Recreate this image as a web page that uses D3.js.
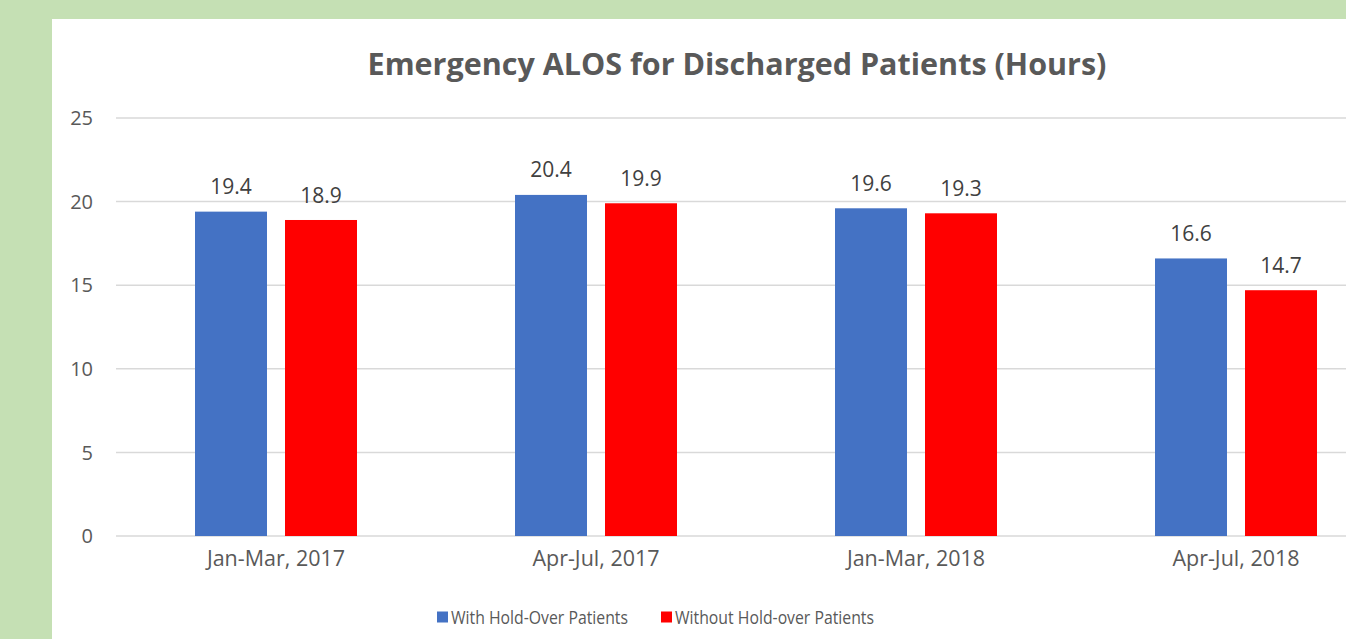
<!DOCTYPE html>
<html><head><meta charset="utf-8">
<script src="https://cdn.jsdelivr.net/npm/d3@7"></script>
<style>body{margin:0;background:#c5e0b4;overflow:hidden}</style>
</head><body>
<svg id="c" width="1346" height="639"></svg>
<script>
const categories = ["Jan-Mar, 2017", "Apr-Jul, 2017", "Jan-Mar, 2018", "Apr-Jul, 2018"];
const seriesNames = ["With Hold-Over Patients", "Without Hold-over Patients"];
const withHold = [19.4, 20.4, 19.6, 16.6];
const withoutHold = [18.9, 19.9, 19.3, 14.7];
const yTicks = [0, 5, 10, 15, 20, 25];
const colors = ["#4472c4", "#ff0000"];
const title = "Emergency ALOS for Discharged Patients (Hours)";

const svg = d3.select("#c");
const font = "'Open Sans', sans-serif";
svg.append("rect").attr("x", 52).attr("y", 19).attr("width", 1346 - 52).attr("height", 639 - 19).attr("fill", "#fff");

const x = d3.scaleBand().domain(categories).range([116, 1396]).paddingInner(0).paddingOuter(0);
const y = d3.scaleLinear().domain([0, 25]).range([536, 118]);
const sub = d3.scaleBand().domain([0, 1]).range([-81, 81]).paddingInner(0.2);

// gridlines
svg.append("g").selectAll("line").data(yTicks).join("line")
  .attr("x1", 116).attr("x2", 1346).attr("y1", d => y(d)).attr("y2", d => y(d))
  .attr("stroke", "#d9d9d9").attr("stroke-width", 1.5);

// y axis labels
svg.append("g").selectAll("text").data(yTicks).join("text")
  .attr("x", 93).attr("y", d => y(d)).attr("dy", "0.36em").attr("text-anchor", "end")
  .attr("font-family", font).attr("font-size", 20).attr("fill", "#595959").text(d => d);

const data = categories.map((c, i) => ({c, vals: [withHold[i], withoutHold[i]]}));
const g = svg.append("g").selectAll("g").data(data).join("g")
  .attr("transform", d => `translate(${x(d.c) + x.bandwidth() / 2},0)`);
g.selectAll("rect").data(d => d.vals.map((v, k) => ({v, k}))).join("rect")
  .attr("x", d => sub(d.k)).attr("width", sub.bandwidth())
  .attr("y", d => y(d.v)).attr("height", d => y(0) - y(d.v))
  .attr("fill", d => colors[d.k]);
g.selectAll("text.v").data(d => d.vals.map((v, k) => ({v, k}))).join("text")
  .attr("class", "v")
  .attr("x", d => sub(d.k) + sub.bandwidth() / 2).attr("y", d => y(d.v) - 25)
  .attr("dy", "0.36em").attr("text-anchor", "middle")
  .attr("font-family", font).attr("font-size", 21).attr("fill", "#404040")
  .text(d => d.v.toFixed(1));

// category labels
svg.append("g").selectAll("text").data(categories).join("text")
  .attr("x", d => x(d) + x.bandwidth() / 2).attr("y", 558).attr("dy", "0.36em")
  .attr("text-anchor", "middle").attr("font-family", font).attr("font-size", 21.5)
  .attr("fill", "#595959").text(d => d);

// title
svg.append("text").attr("x", 737).attr("y", 64).attr("dy", "0.36em").attr("text-anchor", "middle")
  .attr("font-family", font).attr("font-weight", "bold").attr("font-size", 30.5)
  .attr("fill", "#595959").text(title);

// legend
const legX = [437, 661];
const legTextLen = [177, 199];
const lg = svg.append("g").selectAll("g").data(seriesNames).join("g")
  .attr("transform", (d, i) => `translate(${legX[i]},617)`);
lg.append("rect").attr("x", 0).attr("y", -5.5).attr("width", 11).attr("height", 11)
  .attr("fill", (d, i) => colors[i]);
lg.append("text").attr("x", 14).attr("dy", "0.36em").attr("font-family", font)
  .attr("font-size", 19).attr("fill", "#595959")
  .attr("textLength", (d, i) => legTextLen[i]).attr("lengthAdjust", "spacingAndGlyphs")
  .text(d => d);
</script>
</body></html>
